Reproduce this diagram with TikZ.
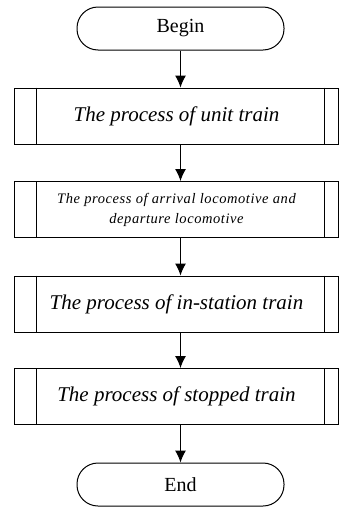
\documentclass[tikz,border=0pt]{standalone}
\usepackage{fontspec}
\setmainfont{Liberation Serif}
\usetikzlibrary{arrows.meta}
\begin{document}
\begin{tikzpicture}[x=1pt,y=-1pt,line width=1pt,
  term/.style={draw,rounded corners=21pt,minimum width=207pt,minimum height=43pt,inner sep=0pt,font=\fontsize{20}{24}\selectfont},
  proc/.style={draw,minimum width=324pt,minimum height=56pt,inner sep=0pt,align=center},
  arr/.style={-{Latex[length=12pt,width=11pt]}},
  ]
\useasboundingbox (0,0) rectangle (339,509);
\node[term] (begin) at (180.5,28.5) {Begin};
\node[proc,font=\fontsize{21}{24}\selectfont\itshape] (p1) at (176.5,116) {The process of unit train};
\node[proc,font=\fontsize{14.5}{20}\selectfont\itshape\addfontfeature{LetterSpace=4}] (p2) at (176.5,209.5) {The process of arrival locomotive and\\departure locomotive};
\node[proc,font=\fontsize{21}{24}\selectfont\itshape] (p3) at (176.5,304) {The process of in-station train};
\node[proc,font=\fontsize{21}{24}\selectfont\itshape] (p4) at (176.5,396.5) {The process of stopped train};
\node[term] (end) at (180.5,484.5) {End};
\foreach \n in {p1,p2,p3,p4}{
  \draw ([xshift=22pt]\n.north west) -- ([xshift=22pt]\n.south west);
  \draw ([xshift=-15pt]\n.north east) -- ([xshift=-15pt]\n.south east);
}
\draw[arr] (begin) -- (begin |- p1.north);
\draw[arr] (begin |- p1.south) -- (begin |- p2.north);
\draw[arr] (begin |- p2.south) -- (begin |- p3.north);
\draw[arr] (begin |- p3.south) -- (begin |- p4.north);
\draw[arr] (begin |- p4.south) -- (end);
\end{tikzpicture}
\end{document}
